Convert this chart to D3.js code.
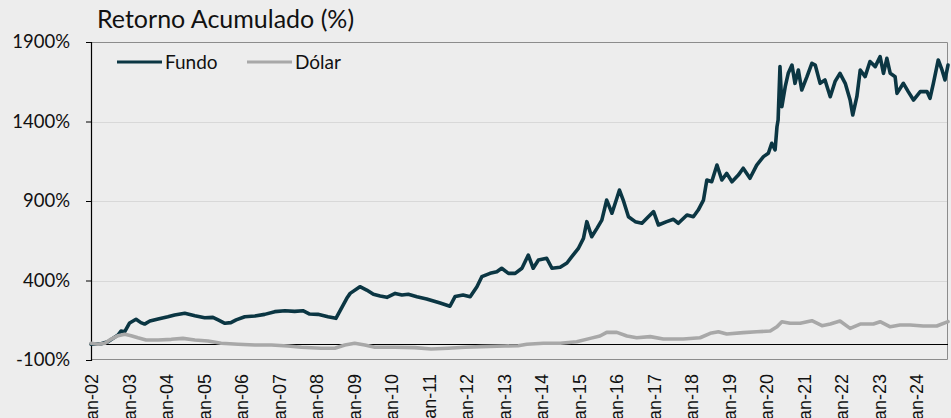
<!DOCTYPE html>
<meta charset="utf-8">
<head>
	<title>Retorno Acumulado (%)</title>
</head>

<style>

body {
	margin: 0;
	background-color: #ededed;
}

svg {
	display: block;
	background-color: #ededed;
}

.title {
	font-family: Lato, sans-serif;
	font-size: 25px;
	fill: #111;
}

.legend text {
	font-family: Lato, sans-serif;
	font-size: 19px;
	fill: #111;
}

.yaxis text {
	font-family: Lato, sans-serif;
	font-size: 18.5px;
	fill: #111;
}

.xaxis text {
	font-family: "Liberation Sans", Arial, sans-serif;
	font-size: 18px;
	fill: #111;
}

.grid line {
	stroke: #d8d8d8;
	stroke-width: 1;
}

.serie {
	fill: none;
	stroke-width: 3.6;
	stroke-linejoin: round;
	stroke-linecap: round;
}

</style>

<body>

	<svg class="chart" width="951" height="418"></svg>

<script src="https://cdnjs.cloudflare.com/ajax/libs/d3/7.8.5/d3.min.js"></script>
<script>

// datas em anos decimais, retorno acumulado em %
var fundoAnos = [2002.00, 2002.27, 2002.45, 2002.72, 2002.80, 2002.90, 2003.03, 2003.20, 2003.33, 2003.43,
	2003.57, 2003.79, 2004.05, 2004.23, 2004.50, 2004.77, 2005.03, 2005.25, 2005.39, 2005.57,
	2005.73, 2005.87, 2006.10, 2006.37, 2006.63, 2006.90, 2007.17, 2007.43, 2007.65, 2007.83,
	2008.05, 2008.32, 2008.53, 2008.82, 2008.91, 2009.17, 2009.35, 2009.53, 2009.71, 2009.89,
	2010.11, 2010.29, 2010.46, 2010.69, 2010.95, 2011.31, 2011.57, 2011.71, 2011.92, 2012.11,
	2012.29, 2012.42, 2012.64, 2012.82, 2012.95, 2013.13, 2013.31, 2013.49, 2013.66, 2013.79,
	2013.93, 2014.15, 2014.29, 2014.51, 2014.69, 2014.82, 2014.99, 2015.13, 2015.22, 2015.35,
	2015.49, 2015.62, 2015.75, 2015.89, 2016.02, 2016.09, 2016.19, 2016.33, 2016.51, 2016.69,
	2016.86, 2017.00, 2017.13, 2017.35, 2017.53, 2017.66, 2017.89, 2018.06, 2018.19, 2018.33,
	2018.42, 2018.55, 2018.69, 2018.82, 2018.95, 2019.09, 2019.26, 2019.39, 2019.57, 2019.75,
	2019.93, 2020.06, 2020.15, 2020.24, 2020.29, 2020.32, 2020.37, 2020.42, 2020.51, 2020.59,
	2020.69, 2020.77, 2020.86, 2020.95, 2021.09, 2021.22, 2021.31, 2021.44, 2021.57, 2021.71,
	2021.84, 2021.97, 2022.11, 2022.24, 2022.31, 2022.42, 2022.51, 2022.64, 2022.77, 2022.91,
	2023.04, 2023.13, 2023.22, 2023.31, 2023.44, 2023.49, 2023.66, 2023.79, 2023.93, 2024.11,
	2024.29, 2024.37, 2024.46, 2024.59, 2024.69, 2024.77, 2024.85];

var fundoRet = [0, 2, 15, 57, 82, 78, 133, 156, 135, 126,
	145, 158, 172, 183, 194, 179, 166, 168, 152, 131,
	135, 152, 172, 177, 187, 204, 210, 206, 210, 189,
	187, 172, 162, 288, 319, 361, 340, 313, 303, 294,
	319, 309, 313, 298, 284, 258, 238, 300, 309, 298,
	361, 424, 445, 455, 477, 445, 445, 477, 560, 477,
	529, 540, 477, 483, 510, 550, 600, 665, 770, 675,
	728, 780, 906, 823, 917, 969, 906, 801, 770, 760,
	801, 833, 749, 770, 785, 760, 812, 801, 843, 906,
	1032, 1021, 1126, 1032, 1074, 1021, 1063, 1106, 1043, 1126,
	1179, 1200, 1263, 1221, 1367, 1409, 1745, 1493, 1619, 1703,
	1755, 1640, 1724, 1598, 1682, 1766, 1755, 1640, 1661, 1556,
	1652, 1703, 1640, 1535, 1441, 1556, 1724, 1682, 1777, 1745,
	1808, 1703, 1797, 1703, 1682, 1577, 1640, 1588, 1535, 1588,
	1588, 1546, 1640, 1787, 1724, 1661, 1755];

var dolarAnos = [2002.00, 2002.19, 2002.37, 2002.54, 2002.72, 2002.90, 2003.07, 2003.25, 2003.47, 2003.79,
	2004.14, 2004.45, 2004.77, 2005.12, 2005.47, 2005.92, 2006.37, 2006.81, 2007.25, 2007.61,
	2008.14, 2008.50, 2008.77, 2009.03, 2009.30, 2009.57, 2010.10, 2010.63, 2011.07, 2011.52,
	2011.97, 2012.41, 2013.03, 2013.39, 2013.62, 2014.06, 2014.51, 2014.95, 2015.31, 2015.57,
	2015.75, 2016.02, 2016.29, 2016.55, 2016.91, 2017.26, 2017.79, 2018.24, 2018.51, 2018.73,
	2018.95, 2019.39, 2019.75, 2020.11, 2020.29, 2020.42, 2020.64, 2020.91, 2021.22, 2021.49,
	2021.71, 2021.97, 2022.24, 2022.51, 2022.86, 2023.04, 2023.31, 2023.57, 2023.84, 2024.19,
	2024.55, 2024.85];

var dolarRet = [5, -1, 5, 32, 53, 62, 53, 40, 26, 26,
	30, 36, 26, 19, 5, -1, -6, -6, -12, -20,
	-26, -26, -6, 5, -6, -20, -20, -22, -31, -26,
	-20, -16, -12, -10, -1, 5, 5, 15, 36, 51,
	74, 74, 51, 40, 47, 32, 32, 40, 68, 78,
	64, 72, 78, 82, 109, 141, 131, 131, 147, 116,
	126, 145, 99, 126, 126, 141, 109, 120, 120, 114,
	114, 141];

var series = ['Fundo', 'Dólar'];
var colors = ['#0b3643', '#a8a8a8'];

var yTicks = [-100, 400, 900, 1400, 1900];
var xTickLabels = ['Jan-02', 'Jan-03', 'Jan-04', 'Jan-05', 'Jan-06', 'Jan-07', 'Jan-08', 'Jan-09',
	'Jan-10', 'Jan-11', 'Jan-12', 'Jan-13', 'Jan-14', 'Jan-15', 'Jan-16', 'Jan-17', 'Jan-18',
	'Jan-19', 'Jan-20', 'Jan-21', 'Jan-22', 'Jan-23', 'Jan-24'];

var margin = {top: 42, right: 3, bottom: 58, left: 91};
var width = 951 - margin.left - margin.right;
var height = 418 - margin.top - margin.bottom;

var svg = d3.select('.chart');

var x = d3.scaleLinear()
	.domain([fundoAnos[0], fundoAnos[fundoAnos.length - 1]])
	.range([0, width]);

var y = d3.scaleLinear()
	.domain([yTicks[0], yTicks[yTicks.length - 1]])
	.range([height, 0]);

var g = svg.append('g')
	.attr('transform', 'translate(' + margin.left + ',' + margin.top + ')');

// grade horizontal
g.append('g')
	.classed('grid', true)
	.selectAll('line')
	.data(yTicks.slice(1, -1))
	.enter()
	.append('line')
	.attr('x1', 0)
	.attr('x2', width)
	.attr('y1', function(d) { return Math.round(y(d)) + 0.5; })
	.attr('y2', function(d) { return Math.round(y(d)) + 0.5; });

// moldura superior, direita e inferior
g.append('path')
	.attr('d', 'M0,0.5H' + (width - 0.5) + 'V' + (height - 0.5) + 'H0')
	.attr('fill', 'none')
	.attr('stroke', '#8c8c8c')
	.attr('stroke-width', 1);

// linha do zero
g.append('line')
	.attr('x1', 0)
	.attr('x2', width)
	.attr('y1', Math.round(y(0)) + 0.5)
	.attr('y2', Math.round(y(0)) + 0.5)
	.attr('stroke', '#000')
	.attr('stroke-width', 1);

// eixo y
var yAxis = g.append('g')
	.classed('yaxis', true)
	.call(d3.axisLeft(y).tickValues(yTicks).tickSize(5).tickPadding(16)
		.tickFormat(function(d) { return d + '%'; }));
yAxis.select('.domain').attr('stroke', '#000').attr('stroke-width', 1.2);
yAxis.selectAll('.tick line').attr('stroke', '#000');

// eixo x (rótulos girados)
g.append('g')
	.classed('xaxis', true)
	.attr('transform', 'translate(0,' + height + ')')
	.selectAll('text')
	.data(xTickLabels)
	.enter()
	.append('text')
	.attr('transform', function(d) {
		var ano = 2000 + parseInt(d.slice(4), 10);
		return 'translate(' + (x(ano) + 1) + ',14) rotate(-90)';
	})
	.attr('dy', '0.35em')
	.attr('text-anchor', 'end')
	.text(function(d) { return d; });

// séries
var dados = [
	fundoAnos.map(function(a, i) { return [a, fundoRet[i]]; }),
	dolarAnos.map(function(a, i) { return [a, dolarRet[i]]; })
];

var line = d3.line()
	.x(function(d) { return x(d[0]); })
	.y(function(d) { return y(d[1]); });

g.selectAll('.serie')
	.data(dados)
	.enter()
	.append('path')
	.classed('serie', true)
	.attr('stroke', function(d, i) { return colors[i]; })
	.attr('d', line);

// legenda
var legend = svg.append('g')
	.classed('legend', true)
	.attr('transform', 'translate(117,62)')
	.selectAll('g')
	.data(series)
	.enter()
	.append('g')
	.attr('transform', function(d, i) { return 'translate(' + (i * 130) + ',0)'; });

legend.append('line')
	.attr('x1', 0)
	.attr('x2', 45)
	.attr('stroke', function(d, i) { return colors[i]; })
	.attr('stroke-width', 3);

legend.append('text')
	.attr('x', 48)
	.attr('dy', '0.35em')
	.text(function(d) { return d; });

// título
svg.append('text')
	.classed('title', true)
	.attr('x', 97)
	.attr('y', 28)
	.text('Retorno Acumulado (%)');

</script>

</body>
</html>
